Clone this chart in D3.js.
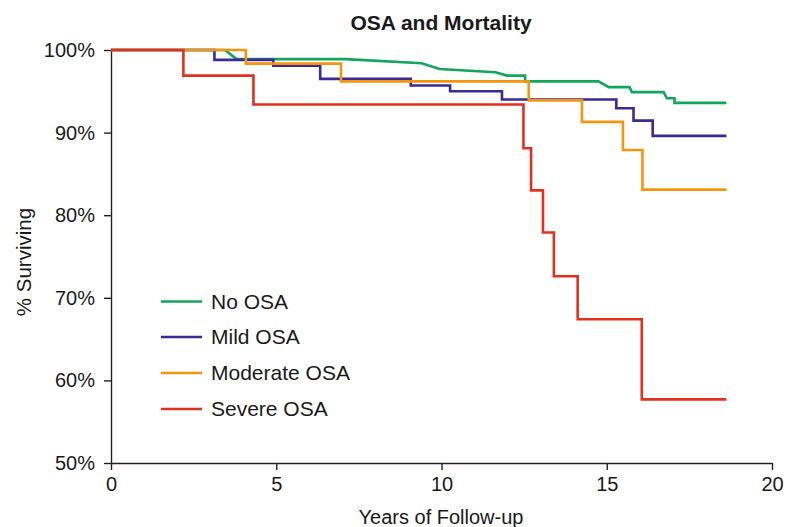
<!DOCTYPE html>
<html><head><meta charset="utf-8">
<script src="https://cdn.jsdelivr.net/npm/d3@7"></script>
<style>body{margin:0;background:#fff}svg{font-family:"Liberation Sans",Arial,Helvetica,sans-serif}</style>
</head><body>
<svg id="c" width="797" height="527"></svg>
<script>
// Data: [years, % surviving]
const seriesNames = ["No OSA", "Mild OSA", "Moderate OSA", "Severe OSA"];
const seriesColors = ["#12a55c", "#3a2a94", "#f5950f", "#e0301e"];
// No OSA: vertices (drawn linearly, includes near-vertical drops)
const noOSA = [[0,100],[3.45,100],[3.8,98.9],[7.1,98.9],[9.4,98.4],[9.94,97.7],[11.63,97.3],[11.98,96.9],[12.53,96.9],[12.53,96.2],[14.75,96.2],[15.06,95.5],[15.69,95.5],[15.76,94.9],[16.72,94.9],[16.82,94.15],[17.05,94.15],[17.05,93.6],[18.62,93.6]];
// Step series: [event time, survival after event]
const mildOSA = [[0,100],[3.13,98.8],[4.91,98.1],[6.33,96.5],[9.07,95.7],[10.26,95.0],[11.83,94.0],[15.29,92.95],[15.81,91.45],[16.39,89.6],[18.62,89.6]];
const moderateOSA = [[0,100],[4.08,98.35],[6.96,96.2],[12.64,93.9],[14.25,91.3],[15.49,87.9],[16.08,83.1],[18.62,83.1]];
const severeOSA = [[0,100],[2.19,96.9],[4.31,93.4],[12.48,88.1],[12.71,83.0],[13.07,77.9],[13.4,72.6],[14.12,67.4],[16.06,57.7],[18.62,57.7]];
const xTicks = [0, 5, 10, 15, 20];
const yTicks = [50, 60, 70, 80, 90, 100];

const svg = d3.select("#c");
const x = d3.scaleLinear().domain([0, 20]).range([111, 772]);
const y = d3.scaleLinear().domain([50, 100]).range([463, 50]);

// axes
const xAxis = svg.append("g").attr("transform", `translate(0,${y(50)})`)
  .call(d3.axisBottom(x).tickValues(xTicks).tickSize(7).tickSizeOuter(0).tickPadding(7));
const yAxis = svg.append("g").attr("transform", `translate(${x(0)},0)`)
  .call(d3.axisLeft(y).tickValues(yTicks).tickSize(7).tickSizeOuter(0).tickPadding(9).tickFormat(d => d + "%"));
[xAxis, yAxis].forEach(a => {
  a.select(".domain").attr("stroke", "#222").attr("stroke-width", 1.4);
  a.selectAll(".tick line").attr("stroke", "#222").attr("stroke-width", 1.4);
  a.selectAll("text").attr("font-size", 20).attr("fill", "#1a1a1a").attr("font-family", "Liberation Sans, Arial, sans-serif");
});

const stepLine = d3.line().x(d => x(d[0])).y(d => y(d[1])).curve(d3.curveStepAfter);
const linLine = d3.line().x(d => x(d[0])).y(d => y(d[1]));
const data = [noOSA, mildOSA, moderateOSA, severeOSA];
data.forEach((s, i) => {
  svg.append("path").datum(s)
    .attr("d", i === 0 ? linLine : stepLine)
    .attr("fill", "none").attr("stroke", seriesColors[i])
    .attr("stroke-width", 2.6).attr("stroke-linejoin", "miter");
});

// title and labels
svg.append("text").attr("x", 441).attr("y", 30).attr("text-anchor", "middle")
  .attr("font-size", 21).attr("font-weight", "bold").attr("fill", "#1a1a1a").text("OSA and Mortality");
svg.append("text").attr("x", 441).attr("y", 524).attr("text-anchor", "middle")
  .attr("font-size", 20).attr("fill", "#1a1a1a").text("Years of Follow-up");
svg.append("text").attr("transform", "translate(31,262) rotate(-90)").attr("text-anchor", "middle")
  .attr("font-size", 20.5).attr("fill", "#1a1a1a").text("% Surviving");

// legend
const legY = [301.5, 337, 373, 409];
seriesNames.forEach((n, i) => {
  svg.append("line").attr("x1", 161).attr("x2", 202).attr("y1", legY[i]).attr("y2", legY[i])
    .attr("stroke", seriesColors[i]).attr("stroke-width", 2.6);
  svg.append("text").attr("x", 211).attr("y", legY[i] + 7).attr("font-size", 21)
    .attr("fill", "#1a1a1a").text(n);
});
</script>
</body></html>
